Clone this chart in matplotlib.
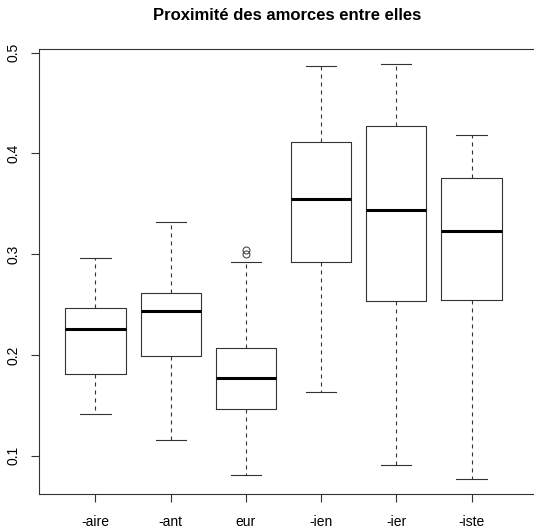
import matplotlib
matplotlib.use('Agg')
import matplotlib.pyplot as plt

plt.rcParams['font.family'] = ['Liberation Sans', 'DejaVu Sans']

# values
labels = ['-aire', '-ant', 'eur', '-ien', '-ier', '-iste']
whislo = [0.1417, 0.1156, 0.0811, 0.1633, 0.0908, 0.0772]
q1 = [0.1817, 0.1990, 0.1464, 0.2920, 0.2539, 0.2546]
med = [0.2261, 0.2437, 0.1775, 0.3549, 0.3443, 0.3227]
q3 = [0.2470, 0.2612, 0.2070, 0.4111, 0.4274, 0.3754]
whishi = [0.2959, 0.3324, 0.2927, 0.4866, 0.4883, 0.4179]
fliers = [[], [], [0.3039, 0.3006], [], [], []]

stats = []
for i in range(len(labels)):
    stats.append(dict(label=labels[i], whislo=whislo[i], q1=q1[i], med=med[i],
                      q3=q3[i], whishi=whishi[i], fliers=fliers[i]))

fig = plt.figure(figsize=(5.34, 5.29), dpi=100)
ax = fig.add_axes([39 / 534, 35 / 529, 1 - 39 / 534, (494 - 49) / 529])

lc = '#333333'
ax.bxp(stats, positions=range(1, 7), widths=0.8, showfliers=True,
       boxprops=dict(color=lc, linewidth=0.8),
       medianprops=dict(color='black', linewidth=2.2, solid_capstyle='butt'),
       whiskerprops=dict(color=lc, linewidth=0.8, linestyle=(0, (3.6, 3.6))),
       capprops=dict(color=lc, linewidth=0.8),
       capwidths=0.4,
       flierprops=dict(marker='o', markerfacecolor='none', markeredgecolor=lc,
                       markersize=5, markeredgewidth=0.7))

ax.set_xlim(0.2487, 6.831)
ax.set_ylim(0.0622, 0.5036)
ax.set_yticks([0.1, 0.2, 0.3, 0.4, 0.5])
ax.set_yticklabels(['0.1', '0.2', '0.3', '0.4', '0.5'], rotation=90, va='center')
ax.set_xticks(range(1, 7))
ax.set_xticklabels(labels)
ax.tick_params(axis='both', direction='out', length=6, width=0.8, labelsize=10,
               colors=lc, labelcolor='black', pad=7)
ax.tick_params(axis='x', pad=9)
ax.spines['right'].set_visible(False)
for s in ['left', 'top', 'bottom']:
    ax.spines[s].set_linewidth(0.8)
    ax.spines[s].set_color(lc)

fig.text(287 / 534, 1 - 15 / 529, 'Proximité des amorces entre elles',
         ha='center', va='center', fontsize=12, fontweight='bold')

fig.savefig('out.png', dpi=100)
